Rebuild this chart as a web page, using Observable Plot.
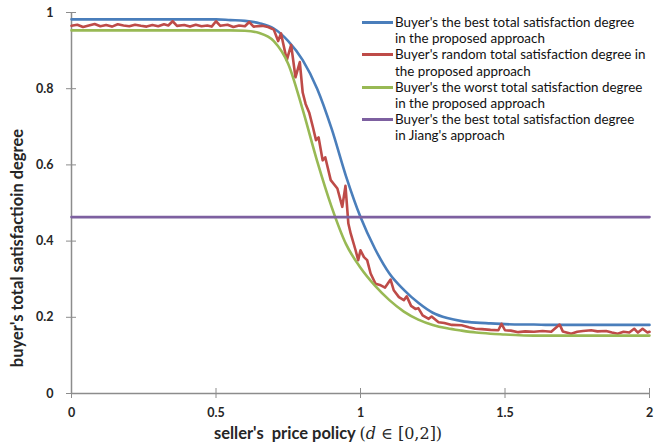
<!DOCTYPE html>
<html><head><meta charset="utf-8">
<script src="https://cdn.jsdelivr.net/npm/d3@7"></script>
<script src="https://cdn.jsdelivr.net/npm/@observablehq/plot@0.6"></script>
<style>
body{margin:0;background:#fff;}
#wrap{position:relative;width:654px;height:445px;font-family:Lato,sans-serif;color:#262626;}
#wrap svg{position:absolute;left:0;top:0;}
.ytitle{position:absolute;left:17px;top:248px;transform:translate(-50%,-50%) rotate(-90deg);white-space:nowrap;font-weight:bold;font-size:16.5px;}
.xtitle{position:absolute;left:328px;top:433px;transform:translate(-50%,-50%);white-space:nowrap;font-weight:bold;font-size:16.5px;}
.xtitle .m{font-family:"DejaVu Serif",serif;font-weight:normal;font-size:16px;}
.legend{position:absolute;left:362px;top:14px;font-size:13.4px;line-height:16.2px;color:#111;}
.legend .row{display:flex;align-items:flex-start;height:32.4px;}
.legend .sw{width:31px;height:3px;margin-top:7px;margin-right:2px;}
.legend .tx{white-space:nowrap;}
</style></head><body><div id="wrap"></div>
<script>
const seriesNames = [
  "Buyer's the best total satisfaction degree\nin the proposed approach",
  "Buyer's random total satisfaction degree in\nthe proposed approach",
  "Buyer's the worst total satisfaction degree\nin the proposed approach",
  "Buyer's the best total satisfaction degree\nin Jiang's approach"
];
const seriesColors = ["#4A7EBB", "#BE4B48", "#98B954", "#7D60A0"];

// x grid for best / worst curves
const gridX = d3.range(41).map(i => +(i * 0.05).toFixed(2));
const bestY = [0.982,0.982,0.982,0.982,0.982,0.982,0.982,0.982,0.982,0.982,0.982,
  0.980,0.978,0.972,0.958,0.925,0.875,0.800,0.695,0.570,0.463,
  0.380,0.315,0.272,0.238,0.212,0.198,0.190,0.186,0.184,0.182,
  0.181,0.181,0.180,0.180,0.180,0.180,0.180,0.180,0.180,0.180];
const worstY = [0.953,0.953,0.953,0.953,0.953,0.953,0.953,0.953,0.953,0.953,0.953,0.953,
  0.952,0.946,0.925,0.865,0.745,0.610,0.490,0.392,0.330,
  0.283,0.245,0.215,0.194,0.180,0.171,0.165,0.160,0.157,0.155,
  0.153,0.152,0.152,0.152,0.152,0.152,0.152,0.152,0.152,0.152];

const randomX = [0,0.02,0.04,0.06,0.08,0.10,0.12,0.14,0.16,0.18,0.20,0.22,0.24,0.26,0.28,0.30,0.32,0.335,0.35,0.365,
  0.39,0.41,0.43,0.45,0.47,0.485,0.50,0.515,0.54,0.56,0.58,0.60,0.615,0.63,0.66,0.68,0.70,0.715,0.725,0.745,
  0.76,0.775,0.79,0.80,0.81,0.823,0.835,0.846,0.855,0.869,0.878,0.897,0.92,0.937,0.948,0.958,0.966,0.983,0.992,1.0,
  1.012,1.023,1.035,1.052,1.07,1.085,1.104,1.115,1.133,1.15,1.16,1.175,1.19,1.2,1.215,1.236,1.246,1.27,1.29,1.316,
  1.35,1.375,1.397,1.42,1.45,1.477,1.488,1.50,1.52,1.546,1.57,1.60,1.63,1.66,1.689,1.70,1.729,1.75,1.77,1.798,
  1.82,1.85,1.87,1.89,1.91,1.93,1.947,1.96,1.976,1.993,2.0];
const randomY = [0.965,0.968,0.962,0.966,0.970,0.964,0.967,0.963,0.969,0.966,0.964,0.968,0.965,0.963,0.967,0.964,0.969,0.966,0.977,0.965,
  0.967,0.963,0.968,0.964,0.966,0.963,0.977,0.965,0.968,0.962,0.966,0.964,0.975,0.963,0.965,0.962,0.955,0.925,0.945,0.875,
  0.915,0.830,0.870,0.790,0.760,0.736,0.700,0.665,0.672,0.612,0.620,0.560,0.538,0.490,0.545,0.446,0.420,0.376,0.350,0.376,
  0.358,0.350,0.315,0.288,0.284,0.278,0.299,0.271,0.253,0.245,0.255,0.230,0.222,0.224,0.205,0.196,0.202,0.187,0.185,0.180,
  0.179,0.174,0.170,0.169,0.167,0.166,0.183,0.166,0.165,0.161,0.163,0.162,0.164,0.162,0.181,0.163,0.157,0.162,0.164,0.166,
  0.163,0.164,0.160,0.157,0.162,0.160,0.170,0.160,0.170,0.160,0.162];

const jiangX = [0, 2];
const jiangY = [0.463, 0.463];

const xTicks = [0, 0.5, 1, 1.5, 2];
const yTicks = [0, 0.2, 0.4, 0.6, 0.8, 1];

const best = gridX.map((x, i) => ({x, y: bestY[i]}));
const worst = gridX.map((x, i) => ({x, y: worstY[i]}));
const rand = randomX.map((x, i) => ({x, y: randomY[i]}));
const jiang = jiangX.map((x, i) => ({x, y: jiangY[i]}));

const axisGray = "#8c8c8c";
const fmt = d => String(d);

const chart = Plot.plot({
  width: 654,
  height: 445,
  marginLeft: 71,
  marginRight: 5,
  marginTop: 12,
  marginBottom: 52,
  style: {fontFamily: "Lato, sans-serif", fontSize: "12.5px", fontWeight: "bold", color: "#262626", background: "#fff"},
  x: {domain: [0, 2]},
  y: {domain: [0, 1]},
  marks: [
    Plot.axisX({ticks: xTicks, tickSize: 5, tickPadding: 10, tickFormat: fmt, label: null, stroke: axisGray}),
    Plot.axisX({ticks: xTicks, tickSize: -5, tickFormat: () => "", label: null, stroke: axisGray}),
    Plot.axisY({ticks: yTicks, tickSize: 5, tickPadding: 13, tickFormat: fmt, label: null, stroke: axisGray}),
    Plot.axisY({ticks: yTicks, tickSize: -5, tickFormat: () => "", label: null, stroke: axisGray}),
    Plot.ruleY([0], {stroke: axisGray, strokeWidth: 1.5}),
    Plot.ruleX([0], {stroke: axisGray, strokeWidth: 1.5}),
    Plot.line(best, {x: "x", y: "y", stroke: seriesColors[0], strokeWidth: 2.6, curve: "monotone-x"}),
    Plot.line(rand, {x: "x", y: "y", stroke: seriesColors[1], strokeWidth: 2.6, strokeLinejoin: "round"}),
    Plot.line(worst, {x: "x", y: "y", stroke: seriesColors[2], strokeWidth: 2.6, curve: "monotone-x"}),
    Plot.line(jiang, {x: "x", y: "y", stroke: seriesColors[3], strokeWidth: 2.6})
  ]
});

const wrap = document.getElementById("wrap");
wrap.appendChild(chart);

const yt = document.createElement("div");
yt.className = "ytitle";
yt.textContent = "buyer's total satisfactioin degree";
wrap.appendChild(yt);

const xt = document.createElement("div");
xt.className = "xtitle";
xt.innerHTML = "seller's&nbsp; price policy <span class='m'>(<i>d</i> ∈ [0,2])</span>";
wrap.appendChild(xt);

const lg = document.createElement("div");
lg.className = "legend";
seriesNames.forEach((name, i) => {
  const row = document.createElement("div");
  row.className = "row";
  const sw = document.createElement("div");
  sw.className = "sw";
  sw.style.background = seriesColors[i];
  const tx = document.createElement("div");
  tx.className = "tx";
  name.split("\n").forEach((line, j) => {
    if (j) tx.appendChild(document.createElement("br"));
    tx.appendChild(document.createTextNode(line));
  });
  row.appendChild(sw);
  row.appendChild(tx);
  lg.appendChild(row);
});
wrap.appendChild(lg);
</script></body></html>
